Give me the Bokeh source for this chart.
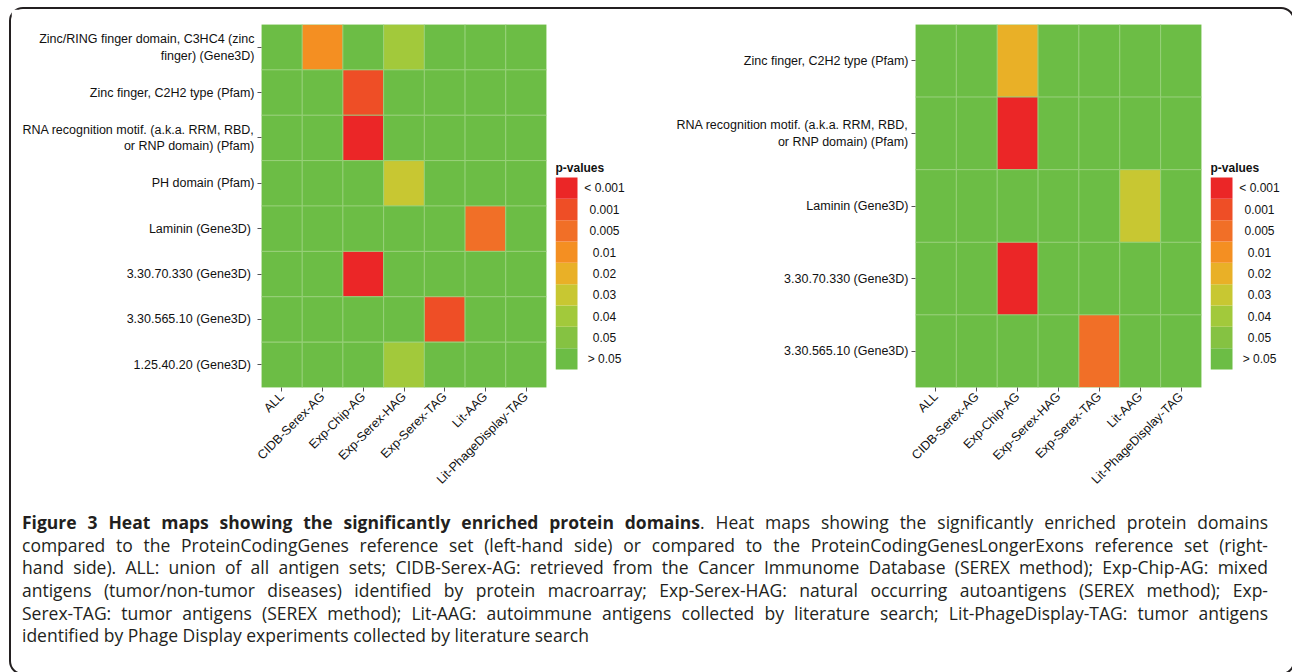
import numpy as np
from bokeh.plotting import figure
from bokeh.models import FactorRange, ColumnDataSource, Div, Range1d, Label
from bokeh.core.properties import value
from bokeh.layouts import row, column
from bokeh.embed import file_html
from bokeh.resources import INLINE

# ---------------- data ----------------
antigen_sets = ["ALL", "CIDB-Serex-AG", "Exp-Chip-AG", "Exp-Serex-HAG",
                "Exp-Serex-TAG", "Lit-AAG", "Lit-PhageDisplay-TAG"]

p_levels = ["< 0.001", "0.001", "0.005", "0.01", "0.02", "0.03", "0.04", "0.05", "> 0.05"]
p_colors = ["#eb2627", "#ee4e26", "#f16f27", "#f48f22", "#e9b027",
            "#c8c732", "#a2c93b", "#85c242", "#6cbd45"]

NS = "> 0.05"

left_domains = [
    "Zinc/RING finger domain, C3HC4 (zinc\nfinger) (Gene3D)",
    "Zinc finger, C2H2 type (Pfam)",
    "RNA recognition motif. (a.k.a. RRM, RBD,\nor RNP domain) (Pfam)",
    "PH domain (Pfam)",
    "Laminin  (Gene3D)",
    "3.30.70.330  (Gene3D)",
    "3.30.565.10  (Gene3D)",
    "1.25.40.20  (Gene3D)",
]
left_pvalues = [
    [NS, "0.01", NS, "0.04", NS, NS, NS],
    [NS, NS, "0.001", NS, NS, NS, NS],
    [NS, NS, "< 0.001", NS, NS, NS, NS],
    [NS, NS, NS, "0.03", NS, NS, NS],
    [NS, NS, NS, NS, NS, "0.005", NS],
    [NS, NS, "< 0.001", NS, NS, NS, NS],
    [NS, NS, NS, NS, "0.001", NS, NS],
    [NS, NS, NS, "0.04", NS, NS, NS],
]

right_domains = [
    "Zinc finger, C2H2 type (Pfam)",
    "RNA recognition motif. (a.k.a. RRM, RBD,\nor RNP domain) (Pfam)",
    "Laminin (Gene3D)",
    "3.30.70.330 (Gene3D)",
    "3.30.565.10 (Gene3D)",
]
right_pvalues = [
    [NS, NS, "0.02", NS, NS, NS, NS],
    [NS, NS, "< 0.001", NS, NS, NS, NS],
    [NS, NS, NS, NS, NS, "0.03", NS],
    [NS, NS, "< 0.001", NS, NS, NS, NS],
    [NS, NS, NS, NS, "0.005", NS, NS],
]

legend_title = "p-values"

caption_title = "Figure 3 Heat maps showing the significantly enriched protein domains"
caption_lines = [
    ". Heat maps showing the significantly enriched protein domains",
    "compared to the ProteinCodingGenes reference set (left-hand side) or compared to the ProteinCodingGenesLongerExons reference set (right-",
    "hand side). ALL: union of all antigen sets; CIDB-Serex-AG: retrieved from the Cancer Immunome Database (SEREX method); Exp-Chip-AG: mixed",
    "antigens (tumor/non-tumor diseases) identified by protein macroarray; Exp-Serex-HAG: natural occurring autoantigens (SEREX method); Exp-",
    "Serex-TAG: tumor antigens (SEREX method); Lit-AAG: autoimmune antigens collected by literature search; Lit-PhageDisplay-TAG: tumor antigens",
    "identified by Phage Display experiments collected by literature search",
]

# ---------------- styling ----------------
H = 495
TOP = 15
FRAME_H = 363
BOTTOM = H - TOP - FRAME_H
FONT = "Liberation Sans"
KEY_W = 22             # pixel width of colour keys
KEY_H = 21.33          # pixel height of one colour key
KEY_GAP_BOTTOM = 18    # pixels between bottom key and frame bottom
KEY_GAP_TOP = FRAME_H - KEY_GAP_BOTTOM - KEY_H * len(p_levels)
color_of = dict(zip(p_levels, p_colors))


def style_axis(ax):
    ax.axis_line_color = None
    ax.major_tick_in = 0
    ax.major_tick_out = 4
    ax.major_tick_line_color = "#555555"
    ax.major_tick_line_width = 1
    ax.minor_tick_line_color = None
    ax.major_label_text_font = FONT
    ax.major_label_text_font_size = "12.5px"
    ax.major_label_text_color = "#111111"
    ax.major_label_standoff = 3


def heatmap(domains, pvalues, width, mbl, mbr):
    xs, ys, cs = [], [], []
    for d, vals in zip(domains, pvalues):
        for s, v in zip(antigen_sets, vals):
            xs.append(s)
            ys.append(d)
            cs.append(color_of[v])
    src = ColumnDataSource(dict(x=xs, y=ys, c=cs))
    p = figure(x_range=FactorRange(*antigen_sets),
               y_range=FactorRange(*reversed(domains)),
               width=width, height=H,
               min_border_left=mbl, min_border_right=mbr,
               min_border_top=TOP, min_border_bottom=BOTTOM,
               output_backend="svg", toolbar_location=None)
    p.rect(x="x", y="y", width=1, height=1, fill_color="c",
           line_color="#9ad27c", line_width=0.8, source=src)
    p.grid.visible = False
    p.outline_line_color = None
    style_axis(p.xaxis[0])
    style_axis(p.yaxis[0])
    p.xaxis.major_label_orientation = np.pi / 4
    return p


def key_fig(width, frame_w):
    n = len(p_levels)
    pos = list(range(n))                 # bottom (> 0.05) to top (< 0.001)
    labels = list(reversed(p_levels))
    colors = list(reversed(p_colors))
    y0 = -0.5 - KEY_GAP_BOTTOM / KEY_H
    y1 = n - 0.5 + KEY_GAP_TOP / KEY_H
    x1 = -0.5 + frame_w / KEY_W
    lf = figure(x_range=Range1d(-0.5, x1), y_range=Range1d(y0, y1),
                width=width, height=H,
                min_border_left=5, min_border_right=width - 5 - frame_w,
                min_border_top=TOP, min_border_bottom=BOTTOM,
                x_axis_location=None, y_axis_location=None,
                output_backend="svg", toolbar_location=None)
    src = ColumnDataSource(dict(x=[0] * n, y=pos, c=colors, lab=labels,
                                lx=[0.5] * n))
    lf.rect(x="x", y="y", width=1, height=1, fill_color="c",
            line_color=None, source=src)
    lf.text(x="lx", y="y", text="lab", x_offset=27, source=src,
            text_align="center", text_baseline="middle",
            text_font=value(FONT), text_font_size="12px",
            text_color="#111111")
    lf.add_layout(Label(x=-0.5, y=n - 0.5, x_units="data", y_units="data",
                        text=legend_title, y_offset=3,
                        text_baseline="bottom", text_align="left",
                        text_font=FONT, text_font_size="12px",
                        text_font_style="bold", text_color="#111111"))
    lf.grid.visible = False
    lf.outline_line_color = None
    return lf


left = heatmap(left_domains, left_pvalues, 539, 250, 4)
key_left = key_fig(83, 76)
right = heatmap(right_domains, right_pvalues, 572, 282, 4)
key_right = key_fig(78, 72)

line_style = ("text-align:justify;text-align-last:justify;white-space:nowrap;"
              "height:22.7px;line-height:22.7px;")
html_lines = [f'<div style="{line_style}"><b>{caption_title}</b>{caption_lines[0]}</div>']
for ln in caption_lines[1:-1]:
    html_lines.append(f'<div style="{line_style}">{ln}</div>')
html_lines.append(f'<div style="text-align:left;white-space:nowrap;height:22.7px;'
                  f'line-height:22.7px;">{caption_lines[-1]}</div>')
caption_html = (
    '<div style="padding:2px 0 0 6px;width:1252px;font-family:\'Open Sans\';'
    'font-size:17.5px;color:#231f20;">' + "".join(html_lines) + "</div>"
)
caption = Div(text=caption_html, width=1272, height=159)

layout = column(row(left, key_left, right, key_right), caption,
                styles={"border": "2px solid #231f20", "border-radius": "14px",
                        "background-color": "white", "margin": "7px 0 0 9px"})

open("out.html", "w").write(file_html(layout, INLINE))
